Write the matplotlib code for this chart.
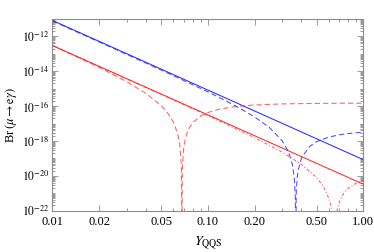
import matplotlib
matplotlib.use("Agg")
import matplotlib.pyplot as plt
from matplotlib.ticker import FixedLocator, FixedFormatter, NullFormatter
import numpy as np

plt.rcParams["font.family"] = ["Liberation Serif", "DejaVu Serif"]
plt.rcParams["mathtext.fontset"] = "stix"

# values (Br vs Y_QQS)
y_solid = [0.01, 1.0]
br_blue_solid = [8.3e-12, 8.4e-20]
br_red_solid = [3.0e-13, 3.3e-21]

y_red_dash = [0.01, 0.015, 0.02, 0.03, 0.04, 0.05, 0.055, 0.06, 0.064, 0.066,
              0.0675, 0.06805, 0.0685, 0.07, 0.072, 0.075, 0.08, 0.09, 0.1,
              0.12, 0.15, 0.2, 0.3, 0.5, 0.7, 1.0]
br_red_dash = [3.05e-13, 5.71e-14, 1.67e-14, 2.56e-15, 5.34e-16, 1.08e-16,
               4.2e-17, 1.22e-17, 2.54e-18, 5.9e-19, 4.0e-20, 1e-25, 2.53e-20,
               4.48e-19, 1.69e-18, 4.65e-18, 1.14e-17, 2.73e-17, 4.29e-17,
               6.85e-17, 9.38e-17, 1.16e-16, 1.34e-16, 1.43e-16, 1.46e-16,
               1.47e-16]

y_blue_dash = [0.01, 0.02, 0.05, 0.1, 0.15, 0.2, 0.25, 0.3, 0.33, 0.35, 0.36,
               0.365, 0.367, 0.37, 0.375, 0.38, 0.4, 0.45, 0.5, 0.6, 0.7, 0.8,
               0.9, 1.0]
br_blue_dash = [7.74e-12, 4.81e-13, 1.19e-14, 6.64e-16, 1.06e-16, 2.39e-17,
                5.70e-18, 1.05e-18, 2.40e-19, 4.24e-20, 6.6e-21, 5.2e-22, 1e-25,
                1.1e-21, 7.6e-21, 1.93e-20, 1.07e-19, 4.79e-19, 9.08e-19,
                1.67e-18, 2.25e-18, 2.66e-18, 2.97e-18, 3.2e-18]

y_red_dashdot = [0.01, 0.02, 0.05, 0.1, 0.2, 0.3, 0.4, 0.5, 0.55, 0.6, 0.62,
                 0.64, 0.65, 0.66, 0.68, 0.7, 0.75, 0.8, 0.9, 1.0]
br_red_dashdot = [3.0e-13, 1.87e-14, 4.74e-16, 2.86e-17, 1.537e-18, 2.29e-19,
                  4.52e-20, 8.0e-21, 2.65e-21, 5.07e-22, 1.65e-22, 1.67e-23,
                  1e-25, 1.52e-23, 1.25e-22, 3.19e-22, 1.04e-21, 1.94e-21,
                  3.85e-21, 5.6e-21]

x_ticks = [0.01, 0.02, 0.05, 0.10, 0.20, 0.50, 1.00]
x_ticklabels = ["0.01", "0.02", "0.05", "0.10", "0.20", "0.50", "1.00"]
y_ticks = [1e-22, 1e-20, 1e-18, 1e-16, 1e-14, 1e-12]

blue = "#2b2bff"
red = "#ff2b2b"
frame = "#8c8c8c"

fig = plt.figure(figsize=(3.74, 2.52), dpi=100)
ax = fig.add_axes([0.140, 0.164, 0.8316, 0.7607])

lw = 0.75
ax.plot(y_solid, br_blue_solid, color=blue, lw=lw)
ax.plot(y_solid, br_red_solid, color=red, lw=lw)
ax.plot(y_red_dash, br_red_dash, color=red, lw=lw, alpha=0.75,
        dashes=(5, 3))
ax.plot(y_blue_dash, br_blue_dash, color=blue, lw=lw, alpha=0.85,
        dashes=(5, 3))
ax.plot(y_red_dashdot, br_red_dashdot, color=red, lw=lw, alpha=0.75,
        dashes=(3, 2, 1, 2))

ax.set_xscale("log")
ax.set_yscale("log")
ax.set_xlim(0.01, 1.0)
ax.set_ylim(1e-22, 1e-11)

ax.xaxis.set_major_locator(FixedLocator(x_ticks))
ax.xaxis.set_major_formatter(FixedFormatter(x_ticklabels))
x_minor = [k * 10.0 ** e for e in (-2, -1) for k in range(2, 10)]
x_minor = [v for v in x_minor if v not in x_ticks]
ax.xaxis.set_minor_locator(FixedLocator(x_minor))
ax.xaxis.set_minor_formatter(NullFormatter())

ax.yaxis.set_major_locator(FixedLocator(y_ticks))
ax.set_yticklabels([r"$10^{%d}$" % e for e in range(-22, -11, 2)])
y_minor = [k * 10.0 ** e for e in range(-22, -11) for k in range(1, 10)]
y_minor = [v for v in y_minor if v not in y_ticks]
ax.yaxis.set_minor_locator(FixedLocator(y_minor))
ax.yaxis.set_minor_formatter(NullFormatter())

for s in ax.spines.values():
    s.set_color(frame)
    s.set_linewidth(0.8)
ax.tick_params(which="both", direction="in", top=True, right=True,
               color=frame, width=0.6)
ax.tick_params(axis="x", pad=4, labelsize=9)
ax.tick_params(axis="y", pad=2, labelsize=8.5)
ax.tick_params(which="major", length=4)
ax.tick_params(which="minor", length=2)

ax.set_xlabel(r"$Y_{\mathrm{QQS}}$", fontsize=10, labelpad=4)
ax.set_ylabel(r"Br$\,(\mu\rightarrow \mathrm{e}\gamma)$", fontsize=9,
              labelpad=2)

fig.savefig("out.png", dpi=100)
